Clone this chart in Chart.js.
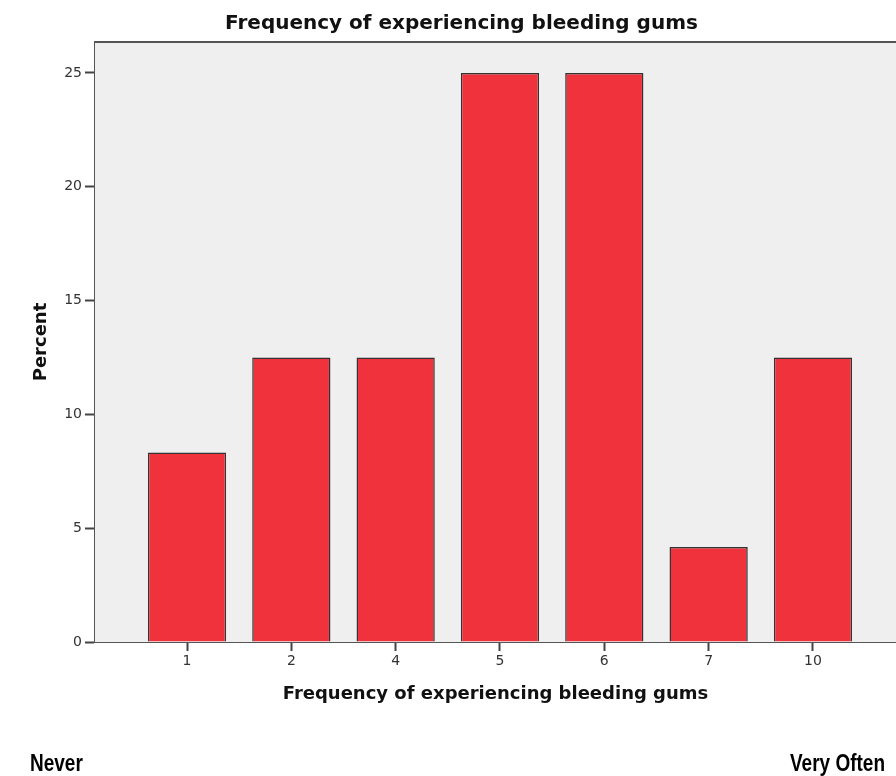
<!DOCTYPE html>
<html>
<head>
<meta charset="utf-8">
<script src="https://cdn.jsdelivr.net/npm/chart.js@4"></script>
<style>
  html, body { margin: 0; padding: 0; background: #fff; overflow: hidden; }
  #wrap { position: relative; width: 896px; height: 776px; }
  .note { position: absolute; top: 750px; line-height: 1; font: bold 19px "Liberation Sans", Arial, sans-serif; color: #000;
          transform: scaleY(1.25); transform-origin: 0 0; }
</style>
</head>
<body>
<div id="wrap">
  <canvas id="myChart" width="896" height="776"></canvas>
  <div class="note" style="left:30px">Never</div>
  <div class="note" style="left:790px">Very Often</div>
</div>
<script>
const categories = ['1', '2', '4', '5', '6', '7', '10'];
const percents = [8.33, 12.5, 12.5, 25, 25, 4.17, 12.5];
const yTicks = [0, 5, 10, 15, 20, 25];

const chartFont = '"DejaVu Sans", sans-serif';

// grey plot panel plus the frame line along its top
const plotBackground = {
    id: 'plotBackground',
    beforeDatasetsDraw(chart) {
        const { ctx, chartArea } = chart;
        ctx.save();
        ctx.fillStyle = '#efefef';
        ctx.fillRect(chartArea.left, chartArea.top, chartArea.right - chartArea.left, chartArea.bottom - chartArea.top);
        ctx.strokeStyle = '#555';
        ctx.lineWidth = 2;
        ctx.beginPath();
        ctx.moveTo(chartArea.left, chartArea.top);
        ctx.lineTo(chartArea.right, chartArea.top);
        ctx.stroke();
        ctx.restore();
    }
};

new Chart(document.getElementById('myChart').getContext('2d'), {
    type: 'bar',
    data: {
        datasets: [{
            data: categories.map((c, i) => ({ x: i, y: percents[i] })),
            backgroundColor: '#ef323b',
            borderColor: '#333',
            borderWidth: 1.5,
            categoryPercentage: 1,
            barPercentage: 0.75
        }]
    },
    options: {
        responsive: false,
        animation: false,
        layout: { padding: { left: 27, right: 0, top: 0, bottom: 0 } },
        plugins: {
            legend: { display: false },
            tooltip: { enabled: false },
            title: {
                display: true,
                text: 'Frequency of experiencing bleeding gums',
                color: '#111',
                font: { family: chartFont, size: 20, weight: 'bold' },
                padding: { top: 12, bottom: 6 }
            }
        },
        scales: {
            x: {
                type: 'linear',
                offset: false,
                min: -0.882,
                max: 6.796,
                afterBuildTicks: (scale) => { scale.ticks = categories.map((c, i) => ({ value: i })); },
                afterFit: (scale) => { scale.height = 134; },
                ticks: {
                    callback: (v) => categories[v],
                    color: '#333',
                    font: { family: chartFont, size: 14 },
                    padding: 2,
                    maxRotation: 0
                },
                grid: { offset: false, drawOnChartArea: false, tickLength: 9, tickColor: '#444', tickWidth: 2 },
                border: { color: '#555', width: 2 },
                title: {
                    display: true,
                    text: 'Frequency of experiencing bleeding gums',
                    color: '#111',
                    font: { family: chartFont, size: 18, weight: 'bold' },
                    padding: { top: 0, bottom: 71 }
                }
            },
            y: {
                min: 0,
                max: 26.36,
                afterBuildTicks: (scale) => { scale.ticks = yTicks.map(v => ({ value: v })); },
                afterFit: (scale) => { scale.width = 68; },
                ticks: {
                    color: '#333',
                    font: { family: chartFont, size: 14 },
                    padding: 3
                },
                grid: { drawOnChartArea: false, tickLength: 10, tickColor: '#444', tickWidth: 2 },
                border: { color: '#555', width: 2 },
                title: {
                    display: true,
                    text: 'Percent',
                    color: '#111',
                    font: { family: chartFont, size: 18, weight: 'bold' },
                    padding: { top: 4, bottom: 0 }
                }
            }
        }
    },
    plugins: [plotBackground]
});
</script>
</body>
</html>
